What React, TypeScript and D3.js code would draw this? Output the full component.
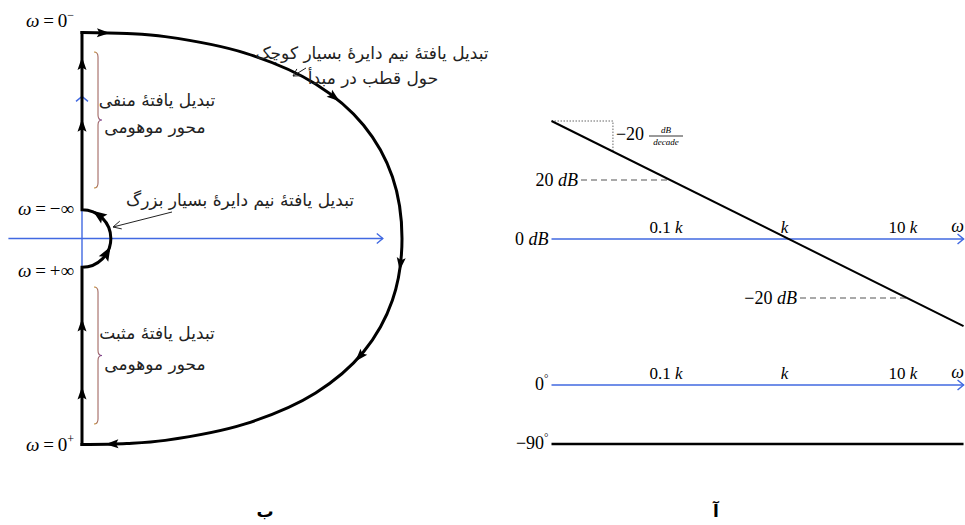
import React, { useEffect, useRef } from 'react';
import * as d3 from 'd3';

const W = 965;
const H = 525;

// ---------- Nyquist contour (real part 0..1, imaginary part -1..1) ----------
const bigArc: [number, number][] = [
  [0, 1], [0.14, 0.995], [0.26, 0.98], [0.51, 0.9], [0.73, 0.75], [0.88, 0.55], [0.97, 0.3], [1, 0],
  [0.97, -0.3], [0.88, -0.55], [0.73, -0.75], [0.51, -0.9], [0.26, -0.98], [0.14, -0.995], [0, -1],
];
const infinityIm = 0.14;
const axisArrowsIm = [0.85, 0.55, -0.42, -0.75];
const bigArcArrowFractions = [0.025, 0.31, 0.53, 0.65, 0.965];
const smallArcArrowAngles = [-55, 30];
const realAxisExtent = [-0.23, 0.94];
const imagAxisExtent = [-1, 0.69];

const omegaLabels = [
  { value: '0', sup: '−', im: 1 },
  { value: '−∞', sup: '', im: infinityIm },
  { value: '+∞', sup: '', im: -infinityIm },
  { value: '0', sup: '+', im: -1 },
];

const notes = {
  negative: ['تبدیل یافتهٔ منفی', 'محور موهومی'],
  positive: ['تبدیل یافتهٔ مثبت', 'محور موهومی'],
  large: 'تبدیل یافتهٔ نیم دایرهٔ بسیار بزرگ',
  small: ['تبدیل یافتهٔ نیم دایرهٔ بسیار کوچک', 'حول قطب در مبدأ'],
};

// ---------- Bode asymptotes (frequency as multiples of k) ----------
const omegaExtent = [0.01, 30];
const decades = [0.1, 1, 10];
const decadeLabels = ['0.1', '', '10'];
const magnitude: [number, number][] = [[0.01, 40], [30, -29.5]];
const dbMarks = [{ db: 20, w: 0.1 }, { db: -20, w: 10 }];
const slopeMark = [0.01, 0.033];
const phaseLevels = [0, -90];

const panelTitles = ['ب', 'آ'];

const BLUE = '#4169e1';
const SERIF = '"Liberation Serif", "Times New Roman", serif';
const PERSIAN = '"DejaVu Sans", sans-serif';
const THIN = '\u2009';

type Sel = d3.Selection<any, any, any, any>;

function solidHead(g: Sel, cx: number, cy: number, dx: number, dy: number, len = 13, hw = 4.5) {
  const n = Math.hypot(dx, dy);
  const ux = dx / n, uy = dy / n;
  const tx = cx + (ux * len) / 2, ty = cy + (uy * len) / 2;
  const bx = cx - (ux * len) / 2, by = cy - (uy * len) / 2;
  g.append('path')
    .attr('d', `M${tx},${ty}L${bx - uy * hw},${by + ux * hw}L${bx + ux * 2.5},${by + uy * 2.5}L${bx + uy * hw},${by - ux * hw}Z`)
    .attr('fill', '#000');
}

function openHead(g: Sel, tx: number, ty: number, dx: number, dy: number, len: number, hw: number, color: string, sw: number) {
  const n = Math.hypot(dx, dy);
  const ux = dx / n, uy = dy / n;
  const bx = tx - ux * len, by = ty - uy * len;
  g.append('path')
    .attr('d', `M${bx - uy * hw},${by + ux * hw}L${tx},${ty}L${bx + uy * hw},${by - ux * hw}`)
    .attr('fill', 'none').attr('stroke', color).attr('stroke-width', sw);
}

function brace(g: Sel, x: number, y0: number, y1: number) {
  const ym = (y0 + y1) / 2;
  const p = d3.path();
  p.moveTo(x - 4, y0);
  p.quadraticCurveTo(x, y0, x, y0 + 5);
  p.lineTo(x, ym - 5);
  p.quadraticCurveTo(x, ym, x + 4, ym);
  p.quadraticCurveTo(x, ym, x, ym + 5);
  p.lineTo(x, y1 - 5);
  p.quadraticCurveTo(x, y1, x - 4, y1);
  g.append('path').attr('d', p.toString()).attr('fill', 'none')
    .attr('stroke', 'url(#braceGrad)').attr('stroke-width', 1.1);
}

function draw(svg: Sel) {
  const defs = svg.append('defs');
  const grad = defs.append('linearGradient').attr('id', 'braceGrad').attr('x1', 0).attr('x2', 1).attr('y1', 0).attr('y2', 0);
  grad.append('stop').attr('offset', '0%').attr('stop-color', '#c8902a');
  grad.append('stop').attr('offset', '100%').attr('stop-color', '#7a3e9a');

  // ================= Nyquist panel =================
  const nq = svg.append('g');
  const re = d3.scaleLinear().domain([0, 1]).range([82, 402]);
  const im = d3.scaleLinear().domain([-1, 1]).range([444.5, 32.5]);

  // blue axes
  nq.append('line').attr('x1', re(realAxisExtent[0])).attr('x2', re(realAxisExtent[1]))
    .attr('y1', im(0)).attr('y2', im(0)).attr('stroke', BLUE).attr('stroke-width', 1.5);
  openHead(nq, re(realAxisExtent[1]), im(0), 1, 0, 6, 5, BLUE, 1.4);
  nq.append('line').attr('x1', re(0)).attr('x2', re(0))
    .attr('y1', im(imagAxisExtent[0])).attr('y2', im(imagAxisExtent[1])).attr('stroke', BLUE).attr('stroke-width', 1.4);
  openHead(nq, re(0), im(imagAxisExtent[1]), 0, -1, 5, 6, BLUE, 1.4);

  // imaginary-axis part of the contour with the small indentation
  const r = im(0) - im(infinityIm);
  const cx = re(0), cy = im(0);
  const side = d3.path();
  side.moveTo(cx, im(-1));
  side.lineTo(cx, im(-infinityIm));
  side.arc(cx, cy, r, Math.PI / 2, -Math.PI / 2, true);
  side.lineTo(cx, im(1));
  nq.append('path').attr('d', side.toString()).attr('fill', 'none')
    .attr('stroke', '#000').attr('stroke-width', 3).attr('stroke-linecap', 'square').attr('stroke-linejoin', 'miter');

  // large semicircle
  const line = d3.line<[number, number]>().x(d => re(d[0])).y(d => im(d[1])).curve(d3.curveCatmullRom.alpha(0.5));
  const arcPath = nq.append('path').attr('d', line(bigArc) as string).attr('fill', 'none')
    .attr('stroke', '#000').attr('stroke-width', 3).attr('stroke-linecap', 'square');

  const node = arcPath.node() as SVGPathElement;
  const total = node.getTotalLength();
  bigArcArrowFractions.forEach(f => {
    const l = f * total;
    const p = node.getPointAtLength(l);
    const a = node.getPointAtLength(Math.max(0, l - 1));
    const b = node.getPointAtLength(Math.min(total, l + 1));
    solidHead(nq, p.x, p.y, b.x - a.x, b.y - a.y);
  });

  axisArrowsIm.forEach(v => solidHead(nq, cx, im(v), 0, -1));

  smallArcArrowAngles.forEach(deg => {
    const t = (deg * Math.PI) / 180;
    solidHead(nq, cx + r * Math.cos(t), cy + r * Math.sin(t), Math.sin(t), -Math.cos(t), 14, 5.5);
  });

  // omega labels
  const labelDy = [-6, 5, 10, 6];
  omegaLabels.forEach((d, i) => {
    const t = nq.append('text').attr('x', cx - 8).attr('y', im(d.im) + labelDy[i])
      .attr('text-anchor', 'end').attr('font-family', SERIF).attr('font-size', 19).attr('fill', '#000');
    t.append('tspan').attr('font-style', 'italic').text('ω');
    t.append('tspan').text(THIN + '=' + THIN + d.value);
    if (d.sup) t.append('tspan').attr('font-size', 12).attr('dy', -8).text(d.sup);
  });

  // braces with notes
  brace(nq, 98, 52, 188);
  brace(nq, 98, 287, 424);
  const persian = (x: number, y: number, s: string, size = 17) =>
    nq.append('text').attr('x', x).attr('y', y).attr('text-anchor', 'middle')
      .attr('font-family', PERSIAN).attr('font-size', size).attr('fill', '#222').text(s);
  persian(157, 106, notes.negative[0]);
  persian(155, 133, notes.negative[1]);
  persian(157, 339, notes.positive[0]);
  persian(155, 370, notes.positive[1]);
  persian(240, 206, notes.large);
  persian(372, 59, notes.small[0]);
  persian(373, 84, notes.small[1]);

  // pointer arrows for notes
  nq.append('line').attr('x1', 172).attr('y1', 212).attr('x2', 113).attr('y2', 227).attr('stroke', '#222').attr('stroke-width', 1);
  openHead(nq, 113, 227, -59, 15, 8, 4, '#222', 1);
  nq.append('line').attr('x1', 306).attr('y1', 68).attr('x2', 293).attr('y2', 76).attr('stroke', '#222').attr('stroke-width', 1);
  openHead(nq, 293, 76, -13, 8, 7, 4, '#222', 1);

  // ================= Bode panel =================
  const bd = svg.append('g');
  const x = d3.scaleLog().domain([0.1, 10]).range([670, 907]);
  const db = d3.scaleLinear().domain([-20, 20]).range([298, 180]);
  const ph = d3.scaleLinear().domain([-90, 0]).range([444, 385]);

  // slope marker
  const mline = d3.line<[number, number]>().x(d => x(d[0])).y(d => db(d[1]));
  const slopeAt = (w: number) => magnitude[0][1] + ((magnitude[1][1] - magnitude[0][1]) * Math.log10(w / magnitude[0][0])) / Math.log10(magnitude[1][0] / magnitude[0][0]);
  bd.append('path')
    .attr('d', `M${x(slopeMark[0])},${db(slopeAt(slopeMark[0]))}H${x(slopeMark[1])}V${db(slopeAt(slopeMark[1]))}`)
    .attr('fill', 'none').attr('stroke', '#666').attr('stroke-width', 1).attr('stroke-dasharray', '1.5,1.5');
  bd.append('text').attr('x', x(slopeMark[1]) + 3).attr('y', 140)
    .attr('font-family', SERIF).attr('font-size', 18).text('−20');
  bd.append('text').attr('x', 666).attr('y', 133).attr('text-anchor', 'middle')
    .attr('font-family', SERIF).attr('font-style', 'italic').attr('font-size', 9).text('dB');
  bd.append('line').attr('x1', 649).attr('x2', 683).attr('y1', 136).attr('y2', 136).attr('stroke', '#000').attr('stroke-width', 0.8);
  bd.append('text').attr('x', 666).attr('y', 145).attr('text-anchor', 'middle')
    .attr('font-family', SERIF).attr('font-style', 'italic').attr('font-size', 9).text('decade');

  // dB reference lines
  dbMarks.forEach(m => {
    const y = db(m.db);
    const labelRight = m.db > 0 ? 578 : 797;
    bd.append('line').attr('x1', labelRight + 3).attr('x2', x(m.w)).attr('y1', y).attr('y2', y)
      .attr('stroke', '#555').attr('stroke-width', 1.2).attr('stroke-dasharray', '6,4');
    const t = bd.append('text').attr('x', labelRight).attr('y', y + 6).attr('text-anchor', 'end')
      .attr('font-family', SERIF).attr('font-size', 18);
    t.append('tspan').text((m.db < 0 ? '−' : '') + Math.abs(m.db) + ' ');
    t.append('tspan').attr('font-style', 'italic').text('dB');
  });

  // frequency axis with decade labels
  const axis = (y: number) => {
    bd.append('line').attr('x1', x(omegaExtent[0])).attr('x2', x(omegaExtent[1]))
      .attr('y1', y).attr('y2', y).attr('stroke', BLUE).attr('stroke-width', 1.7);
    openHead(bd, x(omegaExtent[1]), y, 1, 0, 6, 5, BLUE, 1.5);
    decades.forEach((d, i) => {
      const t = bd.append('text').attr('x', x(d) - 4).attr('y', y - 6).attr('text-anchor', 'middle')
        .attr('font-family', SERIF).attr('font-size', 17);
      if (decadeLabels[i]) t.append('tspan').text(decadeLabels[i] + ' ');
      t.append('tspan').attr('font-style', 'italic').text('k');
    });
    bd.append('text').attr('x', x(omegaExtent[1]) - 6).attr('y', y - 7).attr('text-anchor', 'middle')
      .attr('font-family', SERIF).attr('font-style', 'italic').attr('font-size', 18).text('ω');
  };
  axis(db(0));
  const t0 = bd.append('text').attr('x', x(omegaExtent[0]) - 3).attr('y', db(0) + 6).attr('text-anchor', 'end')
    .attr('font-family', SERIF).attr('font-size', 18);
  t0.append('tspan').text('0 ');
  t0.append('tspan').attr('font-style', 'italic').text('dB');

  // magnitude asymptote
  bd.append('path').attr('d', mline(magnitude) as string).attr('fill', 'none')
    .attr('stroke', '#000').attr('stroke-width', 2);

  // phase plot
  axis(ph(phaseLevels[0]));
  bd.append('line').attr('x1', x(omegaExtent[0])).attr('x2', x(omegaExtent[1]))
    .attr('y1', ph(phaseLevels[1])).attr('y2', ph(phaseLevels[1])).attr('stroke', '#000').attr('stroke-width', 2.5);
  phaseLevels.forEach(p => {
    const t = bd.append('text').attr('x', x(omegaExtent[0]) - 3).attr('y', ph(p) + 5).attr('text-anchor', 'end')
      .attr('font-family', SERIF).attr('font-size', 18);
    t.append('tspan').text((p < 0 ? '−' : '') + Math.abs(p));
    t.append('tspan').attr('font-size', 11).attr('dy', -8).text('°');
  });

  // panel titles
  [265, 716].forEach((px, i) => {
    svg.append('text').attr('x', px).attr('y', 517).attr('text-anchor', 'middle')
      .attr('font-family', PERSIAN).attr('font-weight', 'bold').attr('font-size', 17).text(panelTitles[i]);
  });
}

export default function App() {
  const ref = useRef<SVGSVGElement>(null);
  useEffect(() => {
    const svg = d3.select(ref.current);
    svg.selectAll('*').remove();
    draw(svg);
  }, []);
  return (
    <svg ref={ref} width={W} height={H}
      style={{ position: 'absolute', left: 0, top: 0, background: '#fff', display: 'block' }} />
  );
}
